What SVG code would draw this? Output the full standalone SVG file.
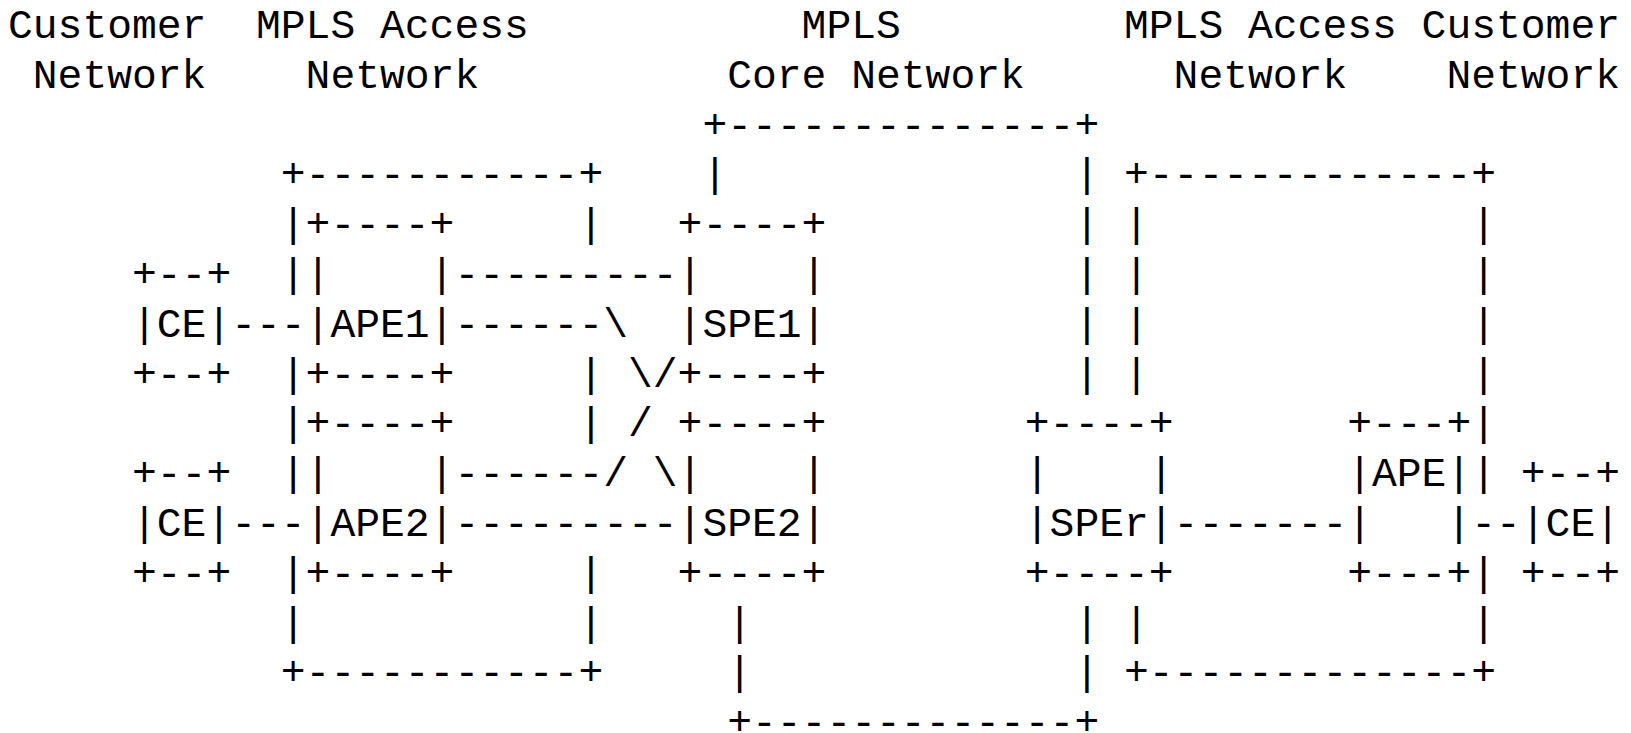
<svg xmlns="http://www.w3.org/2000/svg" width="1631" height="733" viewBox="0 0 1631 733">
  <style>
    text { font-family: "Liberation Mono", "DejaVu Sans Mono", monospace; font-size: 41.333px; fill: #000; white-space: pre; }
  </style>
  <!-- character grid: column c at x = 7 + 24.8c, row r baseline at y = 41 + 49.8(r-1) -->
  <rect width="1631" height="733" fill="#fff"/>

  <g transform="translate(1,-3)">
  <g id="headings" xml:space="preserve">
    <text x="7" y="41">Customer</text>
    <text x="31.8" y="90.8">Network</text>
    <text x="255" y="41">MPLS Access</text>
    <text x="304.6" y="90.8">Network</text>
    <text x="800.6" y="41">MPLS</text>
    <text x="726.2" y="90.8">Core Network</text>
    <text x="1123" y="41">MPLS Access</text>
    <text x="1172.6" y="90.8">Network</text>
    <text x="1420.6" y="41">Customer</text>
    <text x="1445.4" y="90.8">Network</text>
  </g>

  <!-- MPLS core network outline -->
  <g id="core-network" xml:space="preserve">
    <text x="701.4" y="140.6">+--------------+</text>
    <text x="701.4" y="190.4">|</text>
    <text x="1073.4" y="190.4">|</text>
    <text x="1073.4" y="240.2">|</text>
    <text x="1073.4" y="290">|</text>
    <text x="1073.4" y="339.8">|</text>
    <text x="1073.4" y="389.6">|</text>
    <text x="726.2" y="638.6">|</text>
    <text x="1073.4" y="638.6">|</text>
    <text x="726.2" y="688.4">|</text>
    <text x="1073.4" y="688.4">|</text>
    <text x="726.2" y="738.2">+-------------+</text>
  </g>

  <!-- left MPLS access network outline -->
  <g id="access-left" xml:space="preserve">
    <text x="279.8" y="190.4">+-----------+</text>
    <text x="279.8" y="240.2">|</text>
    <text x="577.4" y="240.2">|</text>
    <text x="279.8" y="290">|</text>
    <text x="279.8" y="389.6">|</text>
    <text x="577.4" y="389.6">|</text>
    <text x="279.8" y="439.4">|</text>
    <text x="577.4" y="439.4">|</text>
    <text x="279.8" y="489.2">|</text>
    <text x="279.8" y="588.8">|</text>
    <text x="577.4" y="588.8">|</text>
    <text x="279.8" y="638.6">|</text>
    <text x="577.4" y="638.6">|</text>
    <text x="279.8" y="688.4">+-----------+</text>
  </g>

  <!-- right MPLS access network outline -->
  <g id="access-right" xml:space="preserve">
    <text x="1123" y="190.4">+-------------+</text>
    <text x="1123" y="240.2">|</text>
    <text x="1470.2" y="240.2">|</text>
    <text x="1123" y="290">|</text>
    <text x="1470.2" y="290">|</text>
    <text x="1123" y="339.8">|</text>
    <text x="1470.2" y="339.8">|</text>
    <text x="1123" y="389.6">|</text>
    <text x="1470.2" y="389.6">|</text>
    <text x="1470.2" y="439.4">|</text>
    <text x="1470.2" y="489.2">|</text>
    <text x="1470.2" y="588.8">|</text>
    <text x="1123" y="638.6">|</text>
    <text x="1470.2" y="638.6">|</text>
    <text x="1123" y="688.4">+-------------+</text>
  </g>

  <g id="ce-left-1" xml:space="preserve">
    <text x="131" y="290">+--+</text>
    <text x="131" y="339.8">|CE|</text>
    <text x="131" y="389.6">+--+</text>
  </g>

  <g id="ce-left-2" xml:space="preserve">
    <text x="131" y="489.2">+--+</text>
    <text x="131" y="539">|CE|</text>
    <text x="131" y="588.8">+--+</text>
  </g>

  <g id="ape1" xml:space="preserve">
    <text x="304.6" y="240.2">+----+</text>
    <text x="304.6" y="290">|</text>
    <text x="428.6" y="290">|</text>
    <text x="304.6" y="339.8">|APE1|</text>
    <text x="304.6" y="389.6">+----+</text>
  </g>

  <g id="ape2" xml:space="preserve">
    <text x="304.6" y="439.4">+----+</text>
    <text x="304.6" y="489.2">|</text>
    <text x="428.6" y="489.2">|</text>
    <text x="304.6" y="539">|APE2|</text>
    <text x="304.6" y="588.8">+----+</text>
  </g>

  <g id="spe1" xml:space="preserve">
    <text x="676.6" y="240.2">+----+</text>
    <text x="676.6" y="290">|</text>
    <text x="800.6" y="290">|</text>
    <text x="676.6" y="339.8">|SPE1|</text>
    <text x="676.6" y="389.6">+----+</text>
  </g>

  <g id="spe2" xml:space="preserve">
    <text x="676.6" y="439.4">+----+</text>
    <text x="676.6" y="489.2">|</text>
    <text x="800.6" y="489.2">|</text>
    <text x="676.6" y="539">|SPE2|</text>
    <text x="676.6" y="588.8">+----+</text>
  </g>

  <g id="sper" xml:space="preserve">
    <text x="1023.8" y="439.4">+----+</text>
    <text x="1023.8" y="489.2">|</text>
    <text x="1147.8" y="489.2">|</text>
    <text x="1023.8" y="539">|SPEr|</text>
    <text x="1023.8" y="588.8">+----+</text>
  </g>

  <g id="ape-right" xml:space="preserve">
    <text x="1346.2" y="439.4">+---+</text>
    <text x="1346.2" y="489.2">|APE|</text>
    <text x="1346.2" y="539">|</text>
    <text x="1445.4" y="539">|</text>
    <text x="1346.2" y="588.8">+---+</text>
  </g>

  <g id="ce-right" xml:space="preserve">
    <text x="1519.8" y="489.2">+--+</text>
    <text x="1519.8" y="539">|CE|</text>
    <text x="1519.8" y="588.8">+--+</text>
  </g>

  <!-- attachment circuits and pseudowire links -->
  <g id="connectors" xml:space="preserve">
    <text x="453.4" y="290">---------</text>
    <text x="230.2" y="339.8">---</text>
    <text x="453.4" y="339.8">------\</text>
    <text x="627" y="389.6">\/</text>
    <text x="627" y="439.4">/</text>
    <text x="453.4" y="489.2">------/</text>
    <text x="651.8" y="489.2">\</text>
    <text x="230.2" y="539">---</text>
    <text x="453.4" y="539">---------</text>
    <text x="1172.6" y="539">-------</text>
    <text x="1470.2" y="539">--</text>
  </g>
  </g>
</svg>
